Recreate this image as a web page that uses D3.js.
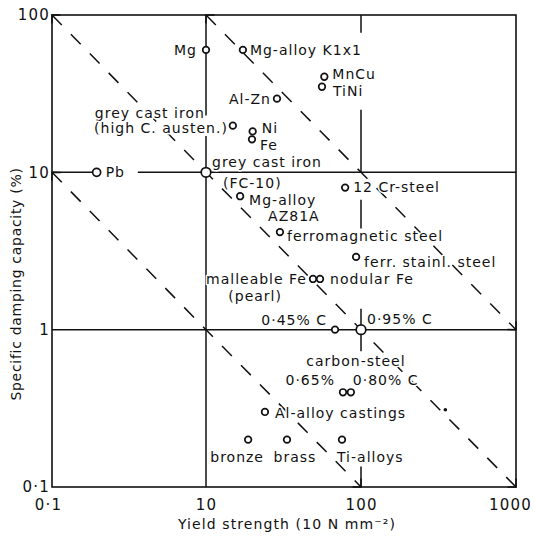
<!DOCTYPE html>
<html>
<head>
<meta charset="utf-8">
<script src="https://cdn.jsdelivr.net/npm/d3@7/dist/d3.min.js"></script>
<style>
  body { margin: 0; background: #fff; }
  svg { display: block; }
  text { font-family: "DejaVu Sans", sans-serif; fill: #111; }
  .lbl { font-size: 14px; letter-spacing: 1px; paint-order: stroke; stroke: #fff; stroke-width: 3px; stroke-linejoin: round; }
  .tick text { font-size: 15px; letter-spacing: 1.2px; }
  .title { font-size: 14px; letter-spacing: 1.1px; }
</style>
</head>
<body>
<svg id="chart" width="535" height="537"></svg>
<script>
  // materials (yield strength in 10 N/mm2, specific damping capacity in %)
  var materials = ["Mg", "Mg-alloy K1x1", "MnCu", "TiNi", "Al-Zn",
    "grey cast iron\n(high C. austen.)", "Ni", "Fe", "Pb", "grey cast iron\n(FC-10)",
    "12 Cr-steel", "Mg-alloy\nAZ81A", "ferromagnetic steel", "ferr. stainl. steel",
    "malleable Fe\n(pearl)", "nodular Fe", "0·45% C", "0·95% C", "0·65%", "0·80% C",
    "Al-alloy castings", "bronze", "brass", "Ti-alloys"];
  var yieldStrength = [10, 17.3, 58, 56, 28.7, 14.9, 20, 19.8, 0.38, 10,
    79, 16.6, 30, 93, 49, 54.4, 68, 100, 76.5, 86, 24, 18.7, 33.3, 75.4];
  var damping = [60, 60, 40.5, 35, 29.4, 19.8, 18.2, 16.2, 10, 10,
    8, 7.05, 4.17, 2.9, 2.1, 2.1, 1, 1, 0.4, 0.4, 0.3, 0.2, 0.2, 0.2];

  // stray dot in the figure
  var specks = [[350, 0.31]];

  // guide lines (dashed), as data points
  var guides = [
    [[0.1, 100], [10, 10], [100, 1], [1000, 0.1]],
    [[0.1, 10], [10, 1], [100, 0.1]],
    [[10, 100], [100, 10], [1000, 1]]
  ];

  // grid line pieces
  var gridX = [[10, 100, 23], [10, 17, 0.1], [100, 100, 77], [100, 25, 10],
    [100, 6.7, 4.4], [100, 1.36, 0.73], [100, 0.135, 0.1]];
  var gridY = [[10, 0.1, 0.38], [10, 1.3, 1000], [1, 0.1, 1000]];

  var xTicks = [0.1, 10, 100, 1000];
  var xTickLabels = ["0·1", "10", "100", "1000"];
  var yTicks = [0.1, 1, 10, 100];
  var yTickLabels = ["0·1", "1", "10", "100"];

  // label placement, one [dx, dy, anchor] per text line
  var labelPos = [
    [[-9, 0, "end"]], [[7, 0, "start"]], [[8, -3, "start"]], [[11, 4, "start"]], [[-6, 0, "end"]],
    [[-28, -13, "end"], [-5, 2, "end"]], [[9, -3, "start"]], [[8, 6, "start"]], [[9, 0, "start"]],
    [[6, -10, "start"], [17, 11, "start"]],
    [[8, 0, "start"]], [[9, 4, "start"], [28, 20, "start"]], [[7, 4, "start"]], [[8, 5, "start"]],
    [[-6, 0, "end"], [-31, 17, "end"]], [[10, 0, "start"]], [[-8, -10, "end"]], [[6, -11, "start"]],
    [[-8, -12, "end"]], [[2, -12, "start"]], [[10, 1, "start"]],
    [[-11, 17, "middle"]], [[8, 17, "middle"]], [[-5, 17, "start"]]
  ];
  var bigMarks = ["grey cast iron\n(FC-10)", "0·95% C"];

  var svg = d3.select("#chart");

  // x axis is squeezed below 10 in the original
  var x = d3.scaleLog().domain([0.1, 10, 1000]).range([52, 206, 516]);
  var y = d3.scaleLog().domain([0.1, 100]).range([487, 15]);

  // grid
  svg.selectAll(".gx").data(gridX).enter().append("line")
    .attr("x1", function (d) { return x(d[0]); })
    .attr("x2", function (d) { return x(d[0]); })
    .attr("y1", function (d) { return y(d[1]); })
    .attr("y2", function (d) { return y(d[2]); })
    .attr("stroke", "#111").attr("stroke-width", 1.5);
  svg.selectAll(".gy").data(gridY).enter().append("line")
    .attr("y1", function (d) { return y(d[0]); })
    .attr("y2", function (d) { return y(d[0]); })
    .attr("x1", function (d) { return x(d[1]); })
    .attr("x2", function (d) { return x(d[2]); })
    .attr("stroke", "#111").attr("stroke-width", 1.5);

  // frame
  svg.append("rect")
    .attr("x", x(0.1)).attr("y", y(100))
    .attr("width", x(1000) - x(0.1)).attr("height", y(0.1) - y(100))
    .attr("fill", "none").attr("stroke", "#111").attr("stroke-width", 1.6);

  // arrow heads for the guide lines
  svg.append("defs").append("marker")
    .attr("id", "arr").attr("viewBox", "-8 -8 10 16")
    .attr("markerUnits", "userSpaceOnUse")
    .attr("markerWidth", 10).attr("markerHeight", 16)
    .attr("refX", 0).attr("refY", 0)
    .attr("orient", "auto-start-reverse")
    .append("path").attr("d", "M-6,-6L0,0L-6,6")
    .attr("fill", "none").attr("stroke", "#111").attr("stroke-width", 1.5);

  var line = d3.line().x(function (d) { return x(d[0]); }).y(function (d) { return y(d[1]); });
  svg.selectAll(".guide").data(guides).enter().append("path")
    .attr("d", line)
    .attr("fill", "none").attr("stroke", "#111").attr("stroke-width", 1.5)
    .attr("stroke-dasharray", "14,13")
    .attr("marker-start", "url(#arr)").attr("marker-end", "url(#arr)");

  // axes (labels only)
  var gx = svg.append("g").attr("transform", "translate(0," + y(0.1) + ")")
    .call(d3.axisBottom(x).tickValues(xTicks).tickSize(0).tickPadding(12)
      .tickFormat(function (d, i) { return xTickLabels[i]; }));
  gx.select(".domain").remove();
  gx.selectAll(".tick text").attr("dx", function (d) { return d === 1000 ? -6 : d === 0.1 ? -4 : 0; });

  var gy = svg.append("g").attr("transform", "translate(" + x(0.1) + ",0)")
    .call(d3.axisLeft(y).tickValues(yTicks).tickSize(0).tickPadding(2)
      .tickFormat(function (d, i) { return yTickLabels[i]; }));
  gy.select(".domain").remove();
  svg.selectAll(".tick text").attr("fill", "#111").style("font-family", "DejaVu Sans");

  svg.append("text").attr("class", "title")
    .attr("x", 287).attr("y", 529).attr("text-anchor", "middle")
    .text("Yield strength (10 N mm⁻²)");
  svg.append("text").attr("class", "title")
    .attr("transform", "translate(21,284) rotate(-90)").attr("text-anchor", "middle")
    .style("letter-spacing", "0.7px")
    .text("Specific damping capacity (%)");

  // material points
  var pts = materials.map(function (m, i) { return { name: m, xs: yieldStrength[i], ds: damping[i], pos: labelPos[i] }; });

  svg.selectAll(".speck").data(specks).enter().append("circle")
    .attr("cx", function (d) { return x(d[0]); })
    .attr("cy", function (d) { return y(d[1]); })
    .attr("r", 1.8).attr("fill", "#111");

  svg.selectAll(".pt").data(pts).enter().append("circle")
    .attr("cx", function (d) { return x(d.xs); })
    .attr("cy", function (d) { return y(d.ds); })
    .attr("r", function (d) { return bigMarks.indexOf(d.name) >= 0 ? 4.8 : d.name === "Pb" ? 4 : 3.3; })
    .attr("fill", "#fff").attr("stroke", "#111").attr("stroke-width", 1.7);

  pts.forEach(function (d) {
    d.name.split("\n").forEach(function (t, j) {
      var p = d.pos[j];
      svg.append("text").attr("class", "lbl")
        .attr("x", x(d.xs) + p[0]).attr("y", y(d.ds) + p[1])
        .attr("dy", "0.35em").attr("text-anchor", p[2])
        .text(t);
    });
  });

  // group label for the two carbon steels
  svg.append("text").attr("class", "lbl")
    .attr("x", x(yieldStrength[18]) + 13).attr("y", y(damping[18]) - 31)
    .attr("dy", "0.35em").attr("text-anchor", "middle")
    .text("carbon-steel");
</script>
</body>
</html>
